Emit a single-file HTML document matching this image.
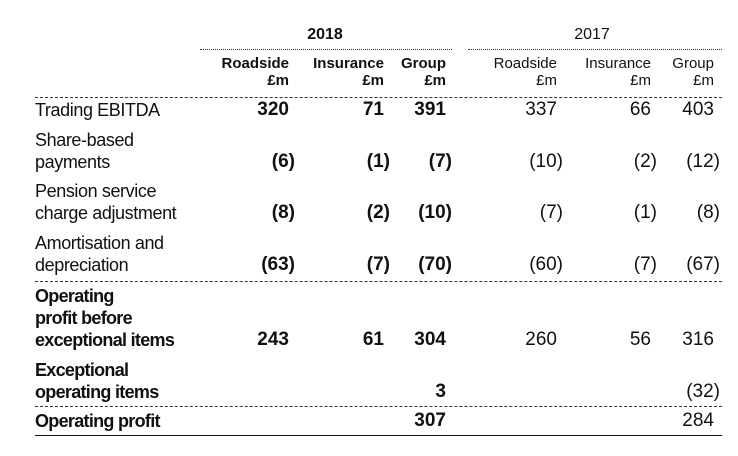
<!DOCTYPE html>
<html><head><meta charset="utf-8"><style>
body{margin:0;width:738px;height:456px;background:#fff;font-family:"Liberation Sans",sans-serif;color:#111;position:relative;overflow:hidden}
.t{position:absolute;white-space:nowrap;line-height:22px;font-size:18px;letter-spacing:-0.4px}
.n{font-size:19px;letter-spacing:0}
.h{position:absolute;white-space:nowrap;font-size:15px;line-height:17px;text-align:right}
.b{font-weight:bold}
.ln{position:absolute;height:0}
</style></head><body>
<div class="h b" style="left:290px;top:26px;width:70px;text-align:center;font-size:16px">2018</div>
<div class="h" style="left:557px;top:26px;width:70px;text-align:center;font-size:16px">2017</div>
<div class="ln" style="left:200px;top:49px;width:252px;border-top:1px dotted #333"></div>
<div class="ln" style="left:468px;top:49px;width:254px;border-top:1px dotted #333"></div>
<div class="ln" style="left:35px;top:97px;width:687px;border-top:1px dashed #333"></div>
<div class="ln" style="left:35px;top:281px;width:687px;border-top:1px dashed #333"></div>
<div class="ln" style="left:35px;top:406px;width:687px;border-top:1px dashed #333"></div>
<div class="ln" style="left:35px;top:435px;width:687px;border-top:1px solid #111"></div>
<script>
const colRight=[289,384,446,557,651,714];
const colHead=['Roadside','Insurance','Group','Roadside','Insurance','Group'];
const rowLabels=[['Trading EBITDA'],['Share-based','payments'],['Pension service','charge adjustment'],['Amortisation and','depreciation'],['Operating','profit before','exceptional items'],['Exceptional','operating items'],['Operating profit']];
const rowTop=[110,140,191,243,296,370,421];
const rowBold=[false,false,false,false,true,true,true];
const values=[['320','71','391','337','66','403'],['(6)','(1)','(7)','(10)','(2)','(12)'],['(8)','(2)','(10)','(7)','(1)','(8)'],['(63)','(7)','(70)','(60)','(7)','(67)'],['243','61','304','260','56','316'],['','','3','','','(32)'],['','','307','','','284']];
function mk(cls,txt,style){const d=document.createElement('div');d.className=cls;d.textContent=txt;d.setAttribute('style',style);document.body.appendChild(d);return d;}
colHead.forEach((h,i)=>{const b=i<3?' b':'';
const a=mk('h'+b,h,'right:'+(738-colRight[i])+'px;top:55px');


const c=mk('h'+b,'£m','right:'+(738-colRight[i])+'px;top:72px');

});
rowLabels.forEach((lines,r)=>{lines.forEach((l,k)=>{
const d=mk('t'+(rowBold[r]?' b':''),l,'left:35px;top:'+(rowTop[r]-11+k*22)+'px;'+(rowBold[r]?'letter-spacing:-0.7px':''));

});
const y=rowTop[r]-11+(lines.length-1)*22;
values[r].forEach((v,c)=>{if(!v)return;const paren=v[0]==='(';
const d=mk('t n'+(c<3?' b':''),v,'right:'+(738-colRight[c]-(paren?6:0))+'px;top:'+y+'px');

});});
</script>
</body></html>
